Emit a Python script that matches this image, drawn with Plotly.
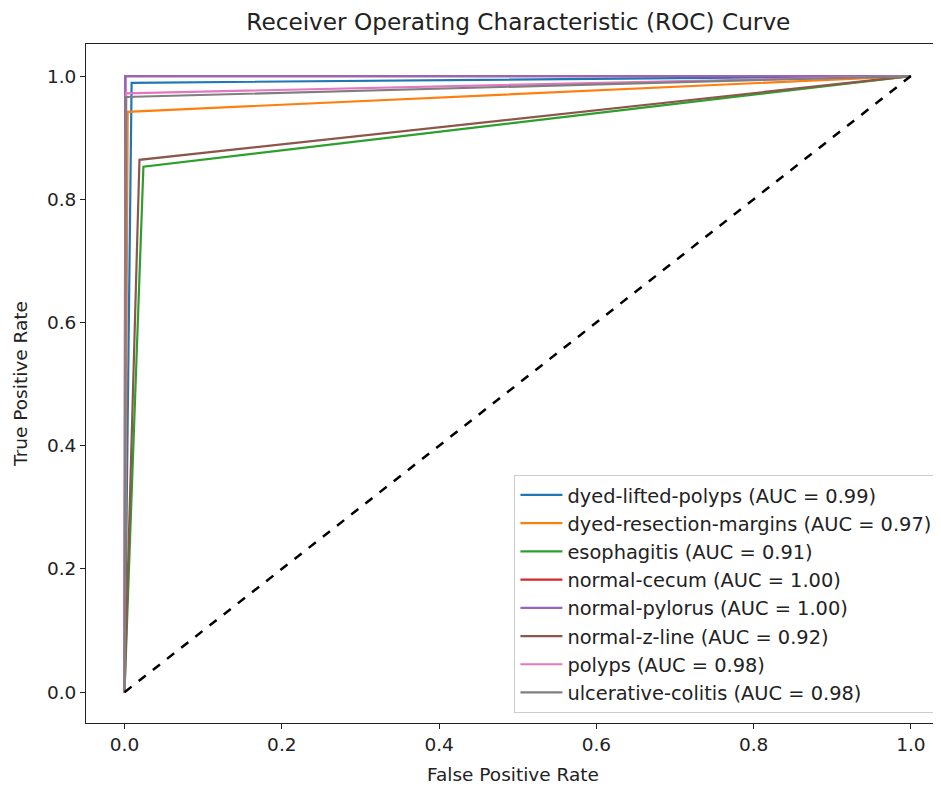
import plotly.graph_objects as go

classes = ["dyed-lifted-polyps", "dyed-resection-margins", "esophagitis", "normal-cecum",
           "normal-pylorus", "normal-z-line", "polyps", "ulcerative-colitis"]
auc_values = [0.99, 0.97, 0.91, 1.00, 1.00, 0.92, 0.98, 0.98]
fpr_mid = [0.009, 0.004, 0.024, 0.001, 0.001, 0.019, 0.002, 0.002]
tpr_mid = [0.989, 0.942, 0.853, 1.0, 1.0, 0.864, 0.972, 0.966]
colors = ["#1f77b4", "#ff7f0e", "#2ca02c", "#d62728", "#9467bd", "#8c564b", "#e377c2", "#7f7f7f"]

x_ticks = [0.0, 0.2, 0.4, 0.6, 0.8, 1.0]
y_ticks = [0.0, 0.2, 0.4, 0.6, 0.8, 1.0]

fig = go.Figure()
for i, (name, auc, f, t, c) in enumerate(zip(classes, auc_values, fpr_mid, tpr_mid, colors)):
    fig.add_trace(go.Scatter(
        x=[0.0, f, 1.0], y=[0.0, t, 1.0], mode="lines",
        line=dict(color=c, width=2.2), legendgroup=f"g{i}",
        name=f"{name} (AUC = {auc:.2f})"))

fig.add_trace(go.Scatter(x=[0, 1], y=[0, 1], mode="lines",
                         line=dict(color="black", width=2.5, dash="dash"),
                         showlegend=False))

axis_common = dict(showgrid=False, zeroline=False, showline=True, linecolor="#222",
                   linewidth=1, mirror=True, ticks="outside", ticklen=5, tickcolor="#222",
                   automargin=False, tickfont=dict(size=18.5, color="#222"))

fig.update_layout(
    width=933, height=779,
    margin=dict(l=78, r=1, t=36, b=64),
    paper_bgcolor="white", plot_bgcolor="white",
    font=dict(family="DejaVu Sans", color="#222"),
    title=dict(text="Receiver Operating Characteristic (ROC) Curve", x=0.547, xanchor="center",
               y=0.982, yanchor="middle", font=dict(size=23.2, color="#222")),
    xaxis=dict(range=[-0.049, 1.037], tickvals=x_ticks, tickformat=".1f",
               title=dict(text="False Positive Rate", font=dict(size=18.5), standoff=13), **axis_common),
    yaxis=dict(range=[-0.05, 1.052], tickvals=y_ticks, tickformat=".1f",
               title=dict(text="True Positive Rate", font=dict(size=18.5), standoff=14), **axis_common),
    legend=dict(x=0.997, y=0.015, xanchor="right", yanchor="bottom",
                bgcolor="rgba(255,255,255,0.8)", bordercolor="#ccc", borderwidth=1,
                font=dict(size=19.4, color="#222"), tracegroupgap=0, itemwidth=42),
)

fig.write_html("out.html")
